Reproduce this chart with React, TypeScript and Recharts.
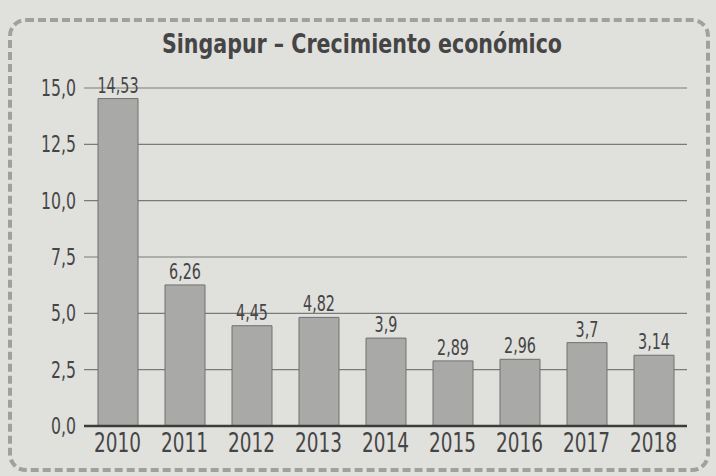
import { Bar, BarChart, CartesianGrid, LabelList, XAxis, YAxis } from "recharts"

const years = ["2010", "2011", "2012", "2013", "2014", "2015", "2016", "2017", "2018"]
const growth = [14.53, 6.26, 4.45, 4.82, 3.9, 2.89, 2.96, 3.7, 3.14]
const yTicks = [0, 2.5, 5, 7.5, 10, 12.5, 15]

const data = years.map((year, i) => ({ year, value: growth[i] }))

const font = "'Liberation Sans Narrow', 'DejaVu Sans Condensed', 'Roboto', sans-serif"
const ink = "#454545"
const squeeze = 0.76

const comma = (v: number | string) => String(v).replace(".", ",")

// condensed text, like the printed chart's narrow typeface
function Narrow({ x, y, text, size, anchor, dy }: any) {
  return (
    <g transform={`translate(${x},${y})`}>
      <text
        transform={`scale(${squeeze},1)`}
        textAnchor={anchor}
        dy={dy}
        fill={ink}
        fontSize={size}
        fontFamily={font}
      >
        {text}
      </text>
    </g>
  )
}

const YTick = ({ x, y, payload }: any) => (
  <Narrow x={x} y={y} text={payload.value.toFixed(1).replace(".", ",")} size={23} anchor="end" dy={8} />
)

const XTick = ({ x, y, payload }: any) => (
  <Narrow x={x} y={y} text={payload.value} size={27} anchor="middle" dy={18} />
)

const ValueLabel = ({ x, y, width, value }: any) => (
  <Narrow x={x + width / 2} y={y} text={comma(value)} size={21} anchor="middle" dy={-6} />
)

export default function App() {
  return (
    <div
      style={{
        position: "fixed",
        left: 0,
        top: 0,
        width: 716,
        height: 476,
        background: "#e0e0dd",
        fontFamily: font,
      }}
    >
      <div
        style={{
          position: "absolute",
          left: 8,
          top: 18,
          width: 694,
          height: 446,
          border: "4px dashed #a0a09e",
          borderRadius: 18,
        }}
      />
      <div
        style={{
          position: "absolute",
          left: 0,
          top: 29,
          width: 724,
          textAlign: "center",
          fontSize: 26,
          fontWeight: 700,
          color: ink,
          transform: "scaleX(0.88)",
        }}
      >
        Singapur – Crecimiento económico
      </div>
      <div style={{ position: "absolute", left: 0, top: 0 }}>
        <BarChart
          width={716}
          height={476}
          data={data}
          margin={{ top: 88, right: 29, left: 0, bottom: 10 }}
        >
          <CartesianGrid vertical={false} stroke="#7a7a78" strokeWidth={1.2} />
          <XAxis
            dataKey="year"
            tickLine={false}
            axisLine={{ stroke: "#3c3c3c", strokeWidth: 2.5 }}
            tick={<XTick />}
            height={40}
          />
          <YAxis
            domain={[0, 15]}
            ticks={yTicks}
            width={84}
            axisLine={false}
            tickLine={false}
            tick={<YTick />}
            interval={0}
          />
          <Bar
            dataKey="value"
            fill="#a9a9a7"
            stroke="#707070"
            strokeWidth={1}
            barSize={40}
            isAnimationActive={false}
          >
            <LabelList dataKey="value" content={<ValueLabel />} />
          </Bar>
        </BarChart>
      </div>
    </div>
  )
}
